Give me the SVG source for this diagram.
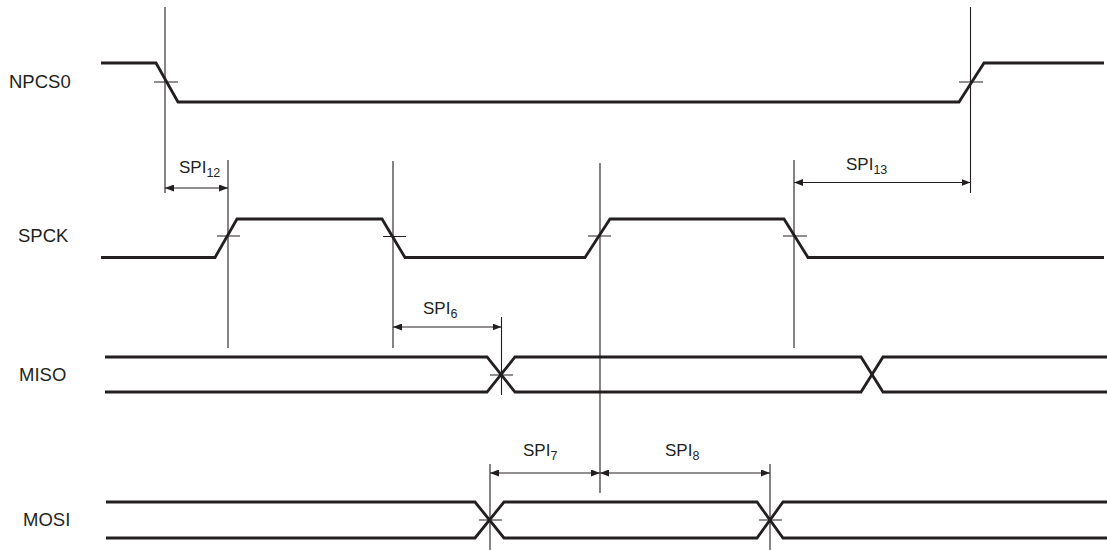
<svg xmlns="http://www.w3.org/2000/svg" width="1107" height="550" viewBox="0 0 1107 550">
<style>
.sig{fill:none;stroke:#231f20;stroke-width:2.8;stroke-linejoin:miter}
.guide{fill:none;stroke:#231f20;stroke-width:1.1}
.dim{fill:none;stroke:#231f20;stroke-width:1.1}
.lbl{font-family:"Liberation Sans",Arial,sans-serif;font-size:18.5px;fill:#231f20}
.spi{font-family:"Liberation Sans",Arial,sans-serif;font-size:17px;fill:#231f20}
.sub{font-size:12.5px}
</style>
<defs>
<marker id="ah" viewBox="0 0 9 7" refX="9" refY="3.5" markerWidth="9" markerHeight="7" markerUnits="userSpaceOnUse" orient="auto-start-reverse">
<path d="M0,0 L9,3.5 L0,7 z" fill="#231f20"/>
</marker>
</defs>
<rect width="1107" height="550" fill="#ffffff"/>
<g id="NPCS0">
<text class="lbl" x="9" y="88">NPCS0</text>
<path class="sig" d="M101,63 H156 L178,102 H959 L984,63 H1104"/>
</g>
<g id="SPCK">
<text class="lbl" x="18" y="242">SPCK</text>
<path class="sig" d="M101,257.5 H215 L237,219 H382 L405,257.5 H585 L610,219 H784 L808,257.5 H1104"/>
</g>
<g id="MISO">
<text class="lbl" x="19" y="381">MISO</text>
<path class="sig" d="M105,357 H487 L515,392 H861 L883,357 H1107"/>
<path class="sig" d="M105,392 H487 L515,357 H861 L883,392 H1107"/>
</g>
<g id="MOSI">
<text class="lbl" x="23" y="526">MOSI</text>
<path class="sig" d="M106,502 H475 L504,538 H757 L783,502 H1107"/>
<path class="sig" d="M106,538 H475 L504,502 H757 L783,538 H1107"/>
</g>
<g id="connectors">
<path class="guide" d="M165,7 V193 M970.5,7 V193 M228,160 V348 M393,161 V348 M600,163 V493 M794,160 V348 M501.5,317 V395 M490,464 V550 M770,464 V550"/>
<path class="guide" d="M154,82 H178 M959,82 H983 M217,236 H240 M383,236.5 H406 M588,236 H611 M783,236 H807 M490,375 H513 M479,520 H502 M759,520 H782"/>
<line class="dim" x1="165" y1="188" x2="228" y2="188" marker-start="url(#ah)" marker-end="url(#ah)"/>
<line class="dim" x1="794" y1="182.5" x2="970.5" y2="182.5" marker-start="url(#ah)" marker-end="url(#ah)"/>
<line class="dim" x1="393" y1="327" x2="501.5" y2="327" marker-start="url(#ah)" marker-end="url(#ah)"/>
<line class="dim" x1="490" y1="473" x2="600" y2="473" marker-start="url(#ah)" marker-end="url(#ah)"/>
<line class="dim" x1="600" y1="473" x2="770" y2="473" marker-start="url(#ah)" marker-end="url(#ah)"/>
</g>
<g id="labels">
<text class="spi" x="179" y="173">SPI<tspan class="sub" dy="4">12</tspan></text>
<text class="spi" x="846" y="170">SPI<tspan class="sub" dy="4">13</tspan></text>
<text class="spi" x="423" y="314">SPI<tspan class="sub" dy="4">6</tspan></text>
<text class="spi" x="523" y="456">SPI<tspan class="sub" dy="4">7</tspan></text>
<text class="spi" x="665" y="456">SPI<tspan class="sub" dy="4">8</tspan></text>
</g>
</svg>
